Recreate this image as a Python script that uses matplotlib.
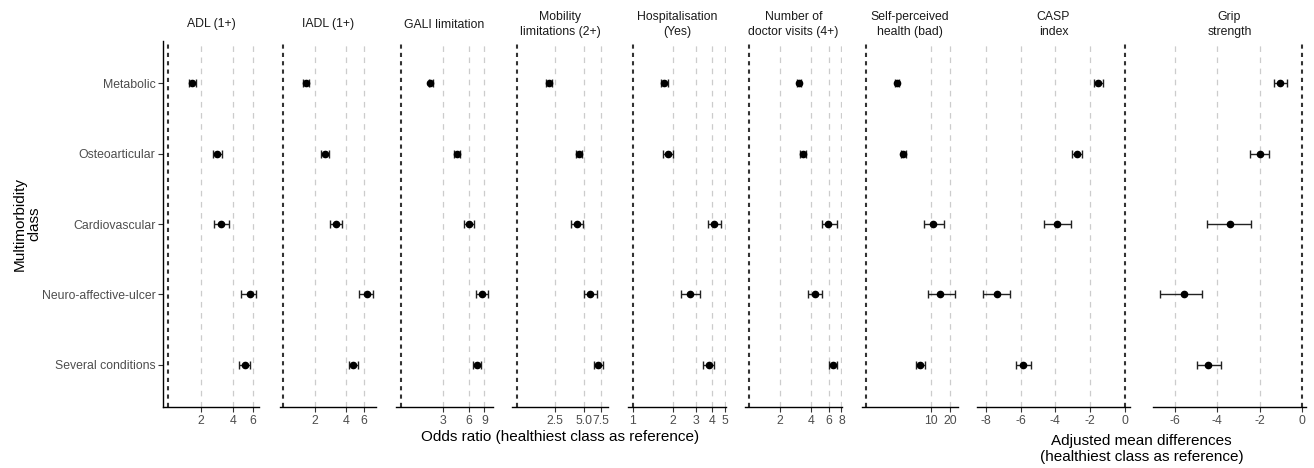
"""
Forest-style panel figure: odds ratios / mean differences by multimorbidity class
1314x468 px, ggplot-like classic theme
"""
import matplotlib
matplotlib.use('Agg')
import matplotlib.pyplot as plt
from matplotlib.ticker import NullLocator, FixedLocator, FixedFormatter

plt.rcParams['font.family'] = ['Liberation Sans', 'DejaVu Sans']
plt.rcParams['lines.scale_dashes'] = False

classes = ['Metabolic', 'Osteoarticular', 'Cardiovascular',
           'Neuro-affective-ulcer', 'Several conditions']

titles = ['ADL (1+)', 'IADL (1+)', 'GALI limitation', 'Mobility\nlimitations (2+)',
          'Hospitalisation\n(Yes)', 'Number of\ndoctor visits (4+)',
          'Self-perceived\nhealth (bad)', 'CASP\nindex', 'Grip\nstrength']

# estimates and 95% CI (order = classes)
adl_est = [1.67, 2.84, 3.09, 5.65, 5.08]
adl_lo = [1.55, 2.58, 2.63, 4.70, 4.53]
adl_hi = [1.81, 3.14, 3.62, 6.49, 5.68]

iadl_est = [1.64, 2.54, 3.20, 6.36, 4.68]
iadl_lo = [1.55, 2.32, 2.80, 5.39, 4.28]
iadl_hi = [1.75, 2.75, 3.68, 7.37, 5.27]

gali_est = [2.15, 4.37, 6.00, 8.45, 7.40]
gali_lo = [2.09, 4.04, 5.26, 7.21, 6.67]
gali_hi = [2.32, 4.73, 6.84, 9.90, 8.23]

mob_est = [2.16, 4.45, 4.25, 5.81, 7.04]
mob_lo = [2.01, 4.14, 3.67, 5.02, 6.39]
mob_hi = [2.32, 4.79, 4.91, 6.87, 7.94]

hosp_est = [1.72, 1.84, 4.13, 2.71, 3.77]
hosp_lo = [1.64, 1.70, 3.71, 2.30, 3.40]
hosp_hi = [1.83, 2.03, 4.67, 3.21, 4.11]

doc_est = [3.05, 3.34, 5.95, 4.38, 6.61]
doc_lo = [2.94, 3.12, 5.16, 3.76, 6.00]
doc_hi = [3.19, 3.60, 7.19, 5.20, 7.29]

srh_est = [3.08, 3.80, 10.75, 13.9, 6.93]
srh_lo = [2.87, 3.47, 7.82, 9.1, 5.89]
srh_hi = [3.27, 4.23, 16.2, 23.4, 8.10]

casp_est = [-1.55, -2.76, -3.91, -7.35, -5.86]
casp_lo = [-1.78, -3.06, -4.67, -8.14, -6.24]
casp_hi = [-1.26, -2.45, -3.10, -6.59, -5.42]

grip_est = [-1.01, -1.98, -3.40, -5.56, -4.45]
grip_lo = [-1.33, -2.44, -4.50, -6.72, -4.95]
grip_hi = [-0.71, -1.55, -2.42, -4.74, -3.82]

estimates = [adl_est, iadl_est, gali_est, mob_est, hosp_est, doc_est, srh_est, casp_est, grip_est]
lowers = [adl_lo, iadl_lo, gali_lo, mob_lo, hosp_lo, doc_lo, srh_lo, casp_lo, grip_lo]
uppers = [adl_hi, iadl_hi, gali_hi, mob_hi, hosp_hi, doc_hi, srh_hi, casp_hi, grip_hi]

tick_vals = [[2, 4, 6], [2, 4, 6], [3, 6, 9], [2.5, 5, 7.5], [1, 2, 3, 4, 5],
             [2, 4, 6, 8], [10, 20], [-8, -6, -4, -2, 0], [-6, -4, -2, 0]]
tick_labs = [['2', '4', '6'], ['2', '4', '6'], ['3', '6', '9'], ['2.5', '5.0', '7.5'],
             ['1', '2', '3', '4', '5'], ['2', '4', '6', '8'], ['10', '20'],
             ['-8', '-6', '-4', '-2', '0'], ['-6', '-4', '-2', '0']]

# ---- layout (pixel extents of each panel) ----
W, H = 1314, 468
px = [(163, 259), (280, 376), (396, 492.7), (512, 608), (628, 725.7),
      (745, 841.7), (862, 958), (977, 1130), (1153, 1306)]
xlims = [(0.90, 6.87), (0.929, 7.83), (0.877, 11.2), (0.886, 8.96), (0.92, 5.04),
         (0.908, 8.05), (0.88, 26.3), (-8.5, 0.29), (-7.04, 0.2)]
is_log = [True] * 7 + [False] * 2
top_px, bot_px = 41, 407

fig = plt.figure(figsize=(W / 100, H / 100), dpi=100)
fig.patch.set_facecolor('white')

ypos = list(range(len(classes)))

for i in range(9):
    x0, x1 = px[i]
    ax = fig.add_axes([x0 / W, 1 - bot_px / H, (x1 - x0) / W, (bot_px - top_px) / H])
    if is_log[i]:
        ax.set_xscale('log')
    ax.set_xlim(*xlims[i])
    ax.set_ylim(len(classes) - 0.4, -0.6)

    ref = 1 if is_log[i] else 0
    for t in tick_vals[i]:
        if t != ref:
            ax.axvline(t, color='#cccccc', lw=0.9, ls=(0, (4, 4)), zorder=1)
    ax.axvline(ref, color='#333333', lw=1.5, ls=(0, (3, 3)), zorder=2)

    est = estimates[i]
    err_lo = [e - l for e, l in zip(est, lowers[i])]
    err_hi = [h - e for e, h in zip(est, uppers[i])]
    ax.errorbar(est, ypos, xerr=[err_lo, err_hi], fmt='o', color='black',
                ecolor='#222222', elinewidth=1.0, capsize=3.2, capthick=1.0,
                markersize=4.5, zorder=3)

    ax.xaxis.set_major_locator(FixedLocator(tick_vals[i]))
    ax.xaxis.set_major_formatter(FixedFormatter(tick_labs[i]))
    ax.xaxis.set_minor_locator(NullLocator())
    ax.tick_params(axis='x', colors='#333333', labelcolor='#4d4d4d',
                   labelsize=8.8, length=3.5, width=0.8, pad=2)

    for s in ['top', 'right']:
        ax.spines[s].set_visible(False)
    ax.spines['bottom'].set_linewidth(1.0)
    ax.spines['bottom'].set_color('black')

    if i == 0:
        ax.set_yticks(ypos)
        ax.set_yticklabels(classes)
        ax.tick_params(axis='y', colors='#333333', labelcolor='#4d4d4d',
                       labelsize=8.8, length=3.5, width=0.8, pad=2)
        ax.spines['left'].set_linewidth(1.0)
        ax.spines['left'].set_color('black')
    else:
        ax.spines['left'].set_visible(False)
        ax.set_yticks([])

    fig.text((x0 + x1) / 2 / W, 1 - 24.5 / H, titles[i], ha='center', va='center',
             fontsize=8.8, color='#1a1a1a', linespacing=1.3)

fig.text(560.5 / W, 1 - 437 / H, 'Odds ratio (healthiest class as reference)',
         ha='center', va='center', fontsize=11, color='black')
fig.text(1141.5 / W, 1 - 449 / H,
         'Adjusted mean differences\n(healthiest class as reference)',
         ha='center', va='center', fontsize=11, color='black', linespacing=1.2)
fig.text(27 / W, 1 - 224 / H, 'Multimorbidity\nclass', rotation=90,
         ha='center', va='center', fontsize=11, color='black', linespacing=1.05)

plt.savefig('out.png', dpi=100, facecolor='white')
print("Saved: out.png")
